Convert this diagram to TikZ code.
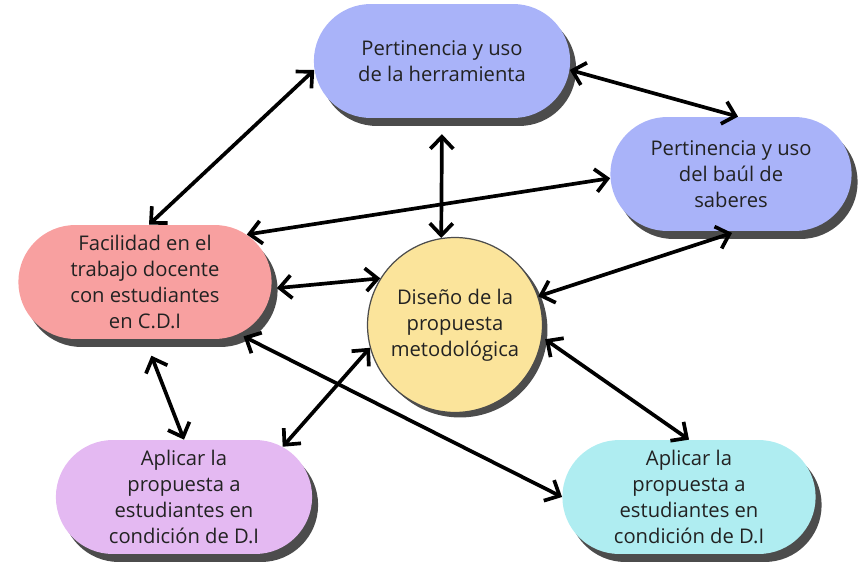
\documentclass[tikz,border=0pt]{standalone}
\usepackage{fontspec}
\setmainfont{Open Sans}
\usetikzlibrary{arrows.meta,shapes.misc,shadows}

\definecolor{azul}{HTML}{A9B3F9}
\definecolor{rojo}{HTML}{F8A0A0}
\definecolor{amarillo}{HTML}{FBE49B}
\definecolor{lila}{HTML}{E4B9F2}
\definecolor{celeste}{HTML}{AFEDF1}
\definecolor{sombra}{HTML}{4C4C4C}
\definecolor{letra}{HTML}{222222}

\begin{document}
\begin{tikzpicture}[
    x=0.02cm, y=-0.02cm,
    every node/.style = {font=\fontsize{11.5}{14.8}\selectfont, text=letra, align=center},
    caja/.style       = {rounded rectangle, minimum width=5.3cm, minimum height=2.28cm,
                         drop shadow={shadow xshift=1.2mm, shadow yshift=-1.6mm, fill=sombra, opacity=1}},
    centro/.style     = {circle, draw=sombra, line width=0.7pt, fill=amarillo, minimum size=3.5cm,
                         drop shadow={shadow xshift=1mm, shadow yshift=-1mm, fill=sombra, opacity=1}},
    flecha/.style     = {{Straight Barb[length=2.4mm,width=4.6mm]}-{Straight Barb[length=2.4mm,width=4.6mm]}, line width=2.1pt, black},
]
\useasboundingbox (0,0) rectangle (861,564);

% nodos
\node [caja, fill=azul, minimum width=5.36cm] (herr) at (442,61) {Pertinencia y uso\\de la herramienta};
\node [caja, fill=azul, minimum width=5.06cm] (baul) at (731,174) {Pertinencia y uso\\del baúl de\\saberes};
\node [caja, fill=rojo] (fac) at (145,282) {Facilidad en el\\trabajo docente\\con estudiantes\\en C.D.I};
\node [centro] (dis) at (455,325) {Diseño de la\\propuesta\\metodológica};
\node [caja, fill=lila, minimum width=5.36cm] (apl1) at (184,497) {Aplicar la\\propuesta a\\estudiantes en\\condición de D.I};
\node [caja, fill=celeste] (apl2) at (689,497) {Aplicar la\\propuesta a\\estudiantes en\\condición de D.I};

% conectores
\draw [flecha] (herr.184) -- (fac.86);
\draw [flecha] (herr.356) -- (baul.83);
\draw [flecha, shorten <=9pt] (herr.270) -- (dis.99);
\draw [flecha] (baul.182) -- (fac.25);
\draw [flecha, shorten <=3pt] (baul.276) -- (dis.19);
\draw [flecha, shorten <=3pt] (fac.357) -- (dis.148);
\draw [flecha, shorten <=10pt] (fac.270) -- (apl1.north);
\draw [flecha] (dis.195) -- (apl1.27);
\draw [flecha, shorten <=3pt] (fac.331) -- (apl2.west);
\draw [flecha, shorten <=2pt] (dis.352) -- (apl2.north);
\end{tikzpicture}
\end{document}
